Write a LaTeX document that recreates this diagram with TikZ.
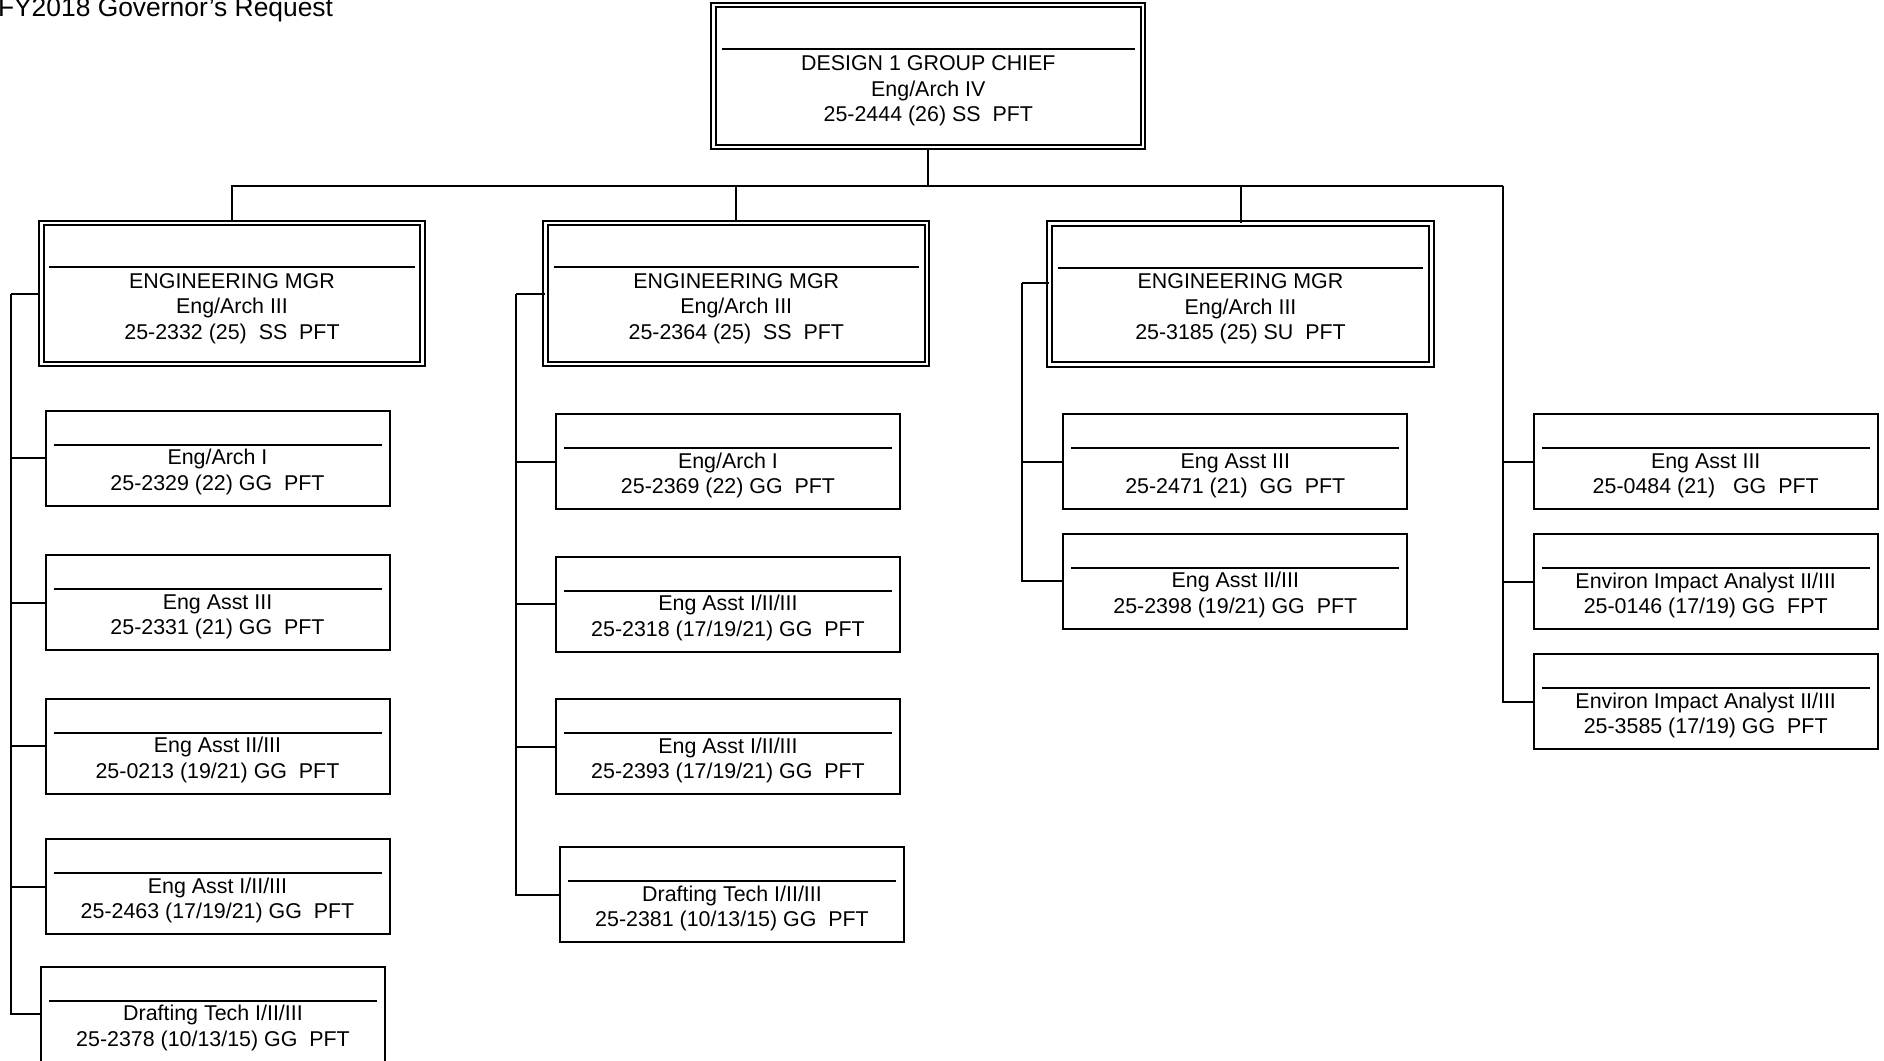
\documentclass[tikz,border=0pt]{standalone}
\usepackage{fontspec}
\setmainfont{Liberation Sans}
\usetikzlibrary{positioning,calc}

\begin{document}
\begin{tikzpicture}
  [x=0.5pt,y=-0.5pt,line width=1pt,
   hline/.style={path picture={\draw[line width=1pt] ([shift={(8,#1)}]path picture bounding box.north west) -- ([shift={(-8,#1)}]path picture bounding box.north east);}},
   post/.style={draw, rectangle, inner sep=0, minimum width=172pt, minimum height=47.5pt, hline=34},
   chief/.style={draw, rectangle, double, double distance=1.4pt, inner sep=0, minimum height=70.5pt, hline=44},
   txt/.style={align=center, inner sep=0, anchor=base, font=\fontsize{10.7}{12.8}\selectfont}]
  \useasboundingbox (0,0) rectangle (1884,1060);

  \node [anchor=base west, inner sep=0, font=\fontsize{13.2}{15}\selectfont] (title) at (-3,16.7) {FY2018 Governor’s Request};

  % group chief and managers
  \node [chief, minimum width=214.75pt, minimum height=71pt] (boss) at (928.3,76) {};
  \node [txt] (bosst) at ($(boss)+(0,45.7)$) {DESIGN 1 GROUP CHIEF\\Eng/Arch IV\\25-2444 (26) SS\ \ PFT};

  \node [chief, minimum width=190.75pt] (m1) at (232,293.5) {};
  \node [txt] (m1t) at ($(m1)+(0,45.7)$) {ENGINEERING MGR\\Eng/Arch III\\25-2332 (25)\ \ SS\ \ PFT};
  \node [chief, minimum width=190.75pt] (m2) at (736.3,293.5) {};
  \node [txt] (m2t) at ($(m2)+(0,45.7)$) {ENGINEERING MGR\\Eng/Arch III\\25-2364 (25)\ \ SS\ \ PFT};
  \node [chief, minimum width=190.75pt] (m3) at (1240.5,294) {};
  \node [txt] (m3t) at ($(m3)+(0,45.7)$) {ENGINEERING MGR\\Eng/Arch III\\25-3185 (25) SU\ \ PFT};

  % first column
  \node [post] (a1) at (217.5,458.3) {};
  \node [txt] (a1t) at ($(a1)+(0,32.1)$) {Eng/Arch I\\25-2329 (22) GG\ \ PFT};
  \node [post] (a2) at (217.5,602.5) {};
  \node [txt] (a2t) at ($(a2)+(0,32.1)$) {Eng Asst III\\25-2331 (21) GG\ \ PFT};
  \node [post] (a3) at (217.5,746) {};
  \node [txt] (a3t) at ($(a3)+(0,32.1)$) {Eng Asst II/III\\25-0213 (19/21) GG\ \ PFT};
  \node [post] (a4) at (217.5,886.7) {};
  \node [txt] (a4t) at ($(a4)+(0,32.1)$) {Eng Asst I/II/III\\25-2463 (17/19/21) GG\ \ PFT};
  \node [post] (a5) at (213,1014.2) {};
  \node [txt] (a5t) at ($(a5)+(0,32.1)$) {Drafting Tech I/II/III\\25-2378 (10/13/15) GG\ \ PFT};

  % second column
  \node [post] (b1) at (728,461.7) {};
  \node [txt] (b1t) at ($(b1)+(0,32.1)$) {Eng/Arch I\\25-2369 (22) GG\ \ PFT};
  \node [post] (b2) at (728,604.3) {};
  \node [txt] (b2t) at ($(b2)+(0,32.1)$) {Eng Asst I/II/III\\25-2318 (17/19/21) GG\ \ PFT};
  \node [post] (b3) at (728,746.7) {};
  \node [txt] (b3t) at ($(b3)+(0,32.1)$) {Eng Asst I/II/III\\25-2393 (17/19/21) GG\ \ PFT};
  \node [post] (b4) at (732,894.7) {};
  \node [txt] (b4t) at ($(b4)+(0,32.1)$) {Drafting Tech I/II/III\\25-2381 (10/13/15) GG\ \ PFT};

  % third column
  \node [post] (c1) at (1235.3,461.7) {};
  \node [txt] (c1t) at ($(c1)+(0,32.1)$) {Eng Asst III\\25-2471 (21)\ \ GG\ \ PFT};
  \node [post] (c2) at (1235.3,581.3) {};
  \node [txt] (c2t) at ($(c2)+(0,32.1)$) {Eng Asst II/III\\25-2398 (19/21) GG\ \ PFT};

  % staff reporting to the chief
  \node [post] (d1) at (1705.7,461.7) {};
  \node [txt] (d1t) at ($(d1)+(0,32.1)$) {Eng Asst III\\25-0484 (21)\ \ \ GG\ \ PFT};
  \node [post] (d2) at (1705.7,581.7) {};
  \node [txt] (d2t) at ($(d2)+(0,32.1)$) {Environ Impact Analyst II/III\\25-0146 (17/19) GG\ \ FPT};
  \node [post] (d3) at (1705.7,701.5) {};
  \node [txt] (d3t) at ($(d3)+(0,32.1)$) {Environ Impact Analyst II/III\\25-3585 (17/19) GG\ \ PFT};

  \coordinate (bus) at (928.3,185.7);
  \coordinate (sp1) at (11,293.5);
  \coordinate (sp2) at (516,293.5);
  \coordinate (sp3) at (1022,282.7);
  \coordinate (sp4) at (1503.3,185.7);

  \draw (boss) -- (bus);
  \draw (m1) |- (bus);
  \draw (m2) |- (bus);
  \draw (m3) |- (bus);
  \draw (bus) -- (sp4);

  \draw (m1.west) -- (sp1);
  \draw (sp1) |- (a1);
  \draw (sp1) |- (a2);
  \draw (sp1) |- (a3);
  \draw (sp1) |- (a4);
  \draw (sp1) |- (a5);

  \draw (m2.west) -- (sp2);
  \draw (sp2) |- (b1);
  \draw (sp2) |- (b2);
  \draw (sp2) |- (b3);
  \draw (sp2) |- (b4);

  \draw (sp3) -- (sp3 -| m3.west);
  \draw (sp3) |- (c1);
  \draw (sp3) |- (c2);

  \draw (sp4) |- (d1);
  \draw (sp4) |- (d2);
  \draw (sp4) |- (d3);
\end{tikzpicture}
\end{document}
